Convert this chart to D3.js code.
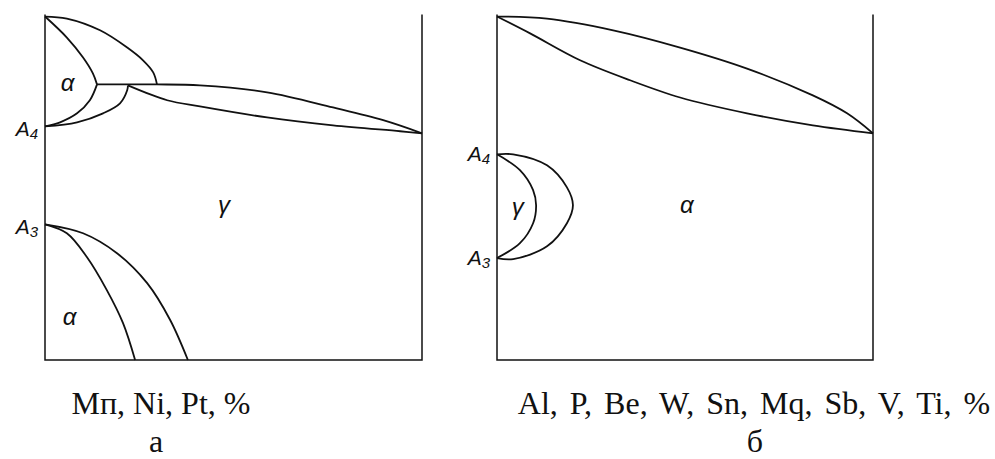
<!DOCTYPE html>
<html>
<head>
<meta charset="utf-8">
<script src="https://cdn.jsdelivr.net/npm/d3@7"></script>
<style>
  html, body { margin: 0; padding: 0; background: #fff; }
  svg { display: block; }
</style>
</head>
<body>
<svg id="chart" width="995" height="459"></svg>
<script>
// Schematic iron-alloy phase diagrams: concentration (%) vs. temperature (relative units, 0..100)

// ---- panel a: γ-stabilising elements (open γ field) ----
const aLiquidus      = [[0, 99.7], [5.8, 99.1], [14.6, 95.7], [21.8, 90.7], [26.0, 87.0], [28.7, 83.5], [29.7, 80.0]];
const aDeltaUpper    = [[0, 99.7], [5.8, 93.6], [10.1, 87.8], [12.7, 83.2], [13.8, 80.0]];
const aDeltaLower    = [[13.8, 80.0], [11.9, 75.4], [8.5, 71.6], [4.0, 69.0], [0, 67.8]];
const aGammaTop      = [[0, 67.8], [8.5, 69.0], [15.4, 71.6], [19.9, 74.5], [21.8, 78.3], [22.0, 79.7]];
const aLensUpper     = [[13.8, 80.0], [29.7, 80.0], [41.1, 79.7], [58.9, 77.7], [76.4, 73.3], [89.7, 69.6], [100, 65.8]];
const aLensLower     = [[22.0, 79.7], [32.4, 75.4], [41.1, 73.6], [58.9, 70.4], [76.4, 68.1], [94.2, 66.4], [100, 65.8]];
const aAlphaInner    = [[0, 39.4], [5.8, 36.8], [11.1, 29.9], [16.4, 20.3], [20.7, 10.7], [23.9, 0]];
const aAlphaOuter    = [[0, 39.4], [10.1, 36.8], [19.1, 31.0], [27.1, 22.3], [33.2, 11.6], [37.9, 0]];

// ---- panel б: α-stabilising elements (closed γ loop) ----
const bLensUpper     = [[0, 99.7], [13.3, 99.1], [30.9, 95.7], [48.7, 90.7], [66.5, 84.6], [84.0, 76.8], [93.1, 71.6], [100, 65.8]];
const bLensLower     = [[0, 99.7], [8.8, 94.8], [22.1, 87.0], [35.4, 81.2], [48.7, 76.2], [66.5, 71.6], [84.0, 68.1], [100, 65.8]];
const bLoopInner     = [[0, 59.7], [6.1, 55.1], [9.6, 49.3], [10.4, 44.9], [9.6, 39.7], [6.1, 33.9], [0, 29.6]];
const bLoopOuter     = [[0, 59.7], [4.3, 59.7], [13.3, 56.5], [18.6, 50.1], [20.2, 44.9], [18.6, 39.7], [13.3, 33.0], [4.3, 29.3], [0, 29.6]];

// Critical points and phase labels
const aCritical = [{ name: "A", sub: "4", t: 67.8 }, { name: "A", sub: "3", t: 39.4 }];
const bCritical = [{ name: "A", sub: "4", t: 59.7 }, { name: "A", sub: "3", t: 29.6 }];
const aPhases = [{ label: "α", c: 6.0, t: 80.0 }, { label: "γ", c: 47.5, t: 44.5 }, { label: "α", c: 6.5, t: 12.0 }];
const bPhases = [{ label: "γ", c: 5.5, t: 44.0 }, { label: "α", c: 50.5, t: 44.5 }];

const axisTitles = ["Mп, Ni, Pt, %", "Al, P, Be, W, Sn, Mq, Sb, V, Ti, %"];
const panelLetters = ["а", "б"];

const SERIF = "'Liberation Serif', 'Times New Roman', serif";
const SANS = "'Liberation Sans', Arial, sans-serif";

const svg = d3.select("#chart");

const panels = [
  { left: 45, right: 422, curves: [aLiquidus, aDeltaUpper, aDeltaLower, aGammaTop, aLensUpper, aLensLower, aAlphaInner, aAlphaOuter],
    crit: aCritical, critDy: 10, phases: aPhases, title: axisTitles[0], letter: panelLetters[0],
    titleX: 161, letterX: 156, wordSpacing: 0 },
  { left: 497, right: 873, curves: [bLensUpper, bLensLower, bLoopInner, bLoopOuter],
    crit: bCritical, critDy: 7, phases: bPhases, title: axisTitles[1], letter: panelLetters[1],
    titleX: 754, letterX: 755, wordSpacing: 4 }
];

const plotTop = 15, plotBottom = 360;

panels.forEach(p => {
  const x = d3.scaleLinear().domain([0, 100]).range([p.left, p.right]);
  const y = d3.scaleLinear().domain([0, 100]).range([plotBottom, plotTop + 0.5]);
  const g = svg.append("g");

  // frame: two verticals and the base line
  g.append("path")
    .attr("d", `M${x(0)},${y(100) - 1}V${y(0)}H${x(100)}V${y(100) - 1}`)
    .attr("fill", "none").attr("stroke", "#111").attr("stroke-width", 1.5);

  const line = d3.line().x(d => x(d[0])).y(d => y(d[1])).curve(d3.curveCatmullRom.alpha(0.5));
  g.selectAll("path.curve").data(p.curves).join("path")
    .attr("class", "curve")
    .attr("d", line)
    .attr("fill", "none").attr("stroke", "#111").attr("stroke-width", 1.8)
    .attr("stroke-linejoin", "round");

  // critical points A4 / A3
  p.crit.forEach(c => {
    const t = g.append("text")
      .attr("x", x(0) - 7).attr("y", y(c.t) + p.critDy)
      .attr("text-anchor", "end")
      .style("font-family", SANS).style("font-style", "italic")
      .style("font-size", "21px").attr("fill", "#111");
    t.append("tspan").text(c.name);
    t.append("tspan").style("font-size", "15px").attr("dy", 3).text(c.sub);
  });

  // phase field labels
  g.selectAll("text.phase").data(p.phases).join("text")
    .attr("class", "phase")
    .attr("x", d => x(d.c)).attr("y", d => y(d.t))
    .attr("text-anchor", "middle").attr("dominant-baseline", "middle")
    .style("font-family", SANS).style("font-style", "italic")
    .style("font-size", "24px").attr("fill", "#111")
    .text(d => d.label);

  // axis title and panel letter
  svg.append("text")
    .attr("x", p.titleX).attr("y", 414)
    .attr("text-anchor", "middle")
    .style("font-family", SERIF).style("font-size", "32px")
    .style("word-spacing", `${p.wordSpacing}px`).attr("fill", "#111")
    .text(p.title);
  svg.append("text")
    .attr("x", p.letterX).attr("y", 452)
    .attr("text-anchor", "middle")
    .style("font-family", SERIF).style("font-size", "32px").attr("fill", "#111")
    .text(p.letter);
});
</script>
</body>
</html>
